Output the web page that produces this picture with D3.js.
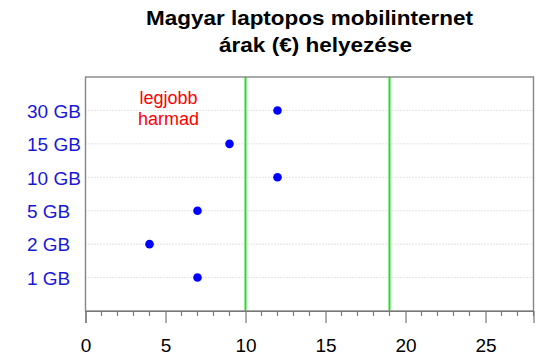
<!DOCTYPE html>
<html><head><meta charset="utf-8">
<script src="https://cdn.jsdelivr.net/npm/d3@7"></script>
<style>body{margin:0;background:#fff}svg{display:block}text{font-family:"Liberation Sans",Arial,sans-serif}</style>
</head><body><svg id="c" width="550" height="357"></svg>
<script>
const categories = ["1 GB","2 GB","5 GB","10 GB","15 GB","30 GB"];
const prices = [7, 4, 7, 12, 9, 12];
const thresholds = [10, 19];
const xTicks = [0,5,10,15,20,25];
const minorTicks = d3.range(0, 29, 1);
const titleLines = ["Magyar laptopos mobilinternet", "árak (€) helyezése"];
const noteLines = ["legjobb", "harmad"];

const svg = d3.select("#c");
const L = 85.5, R = 533.5, T = 77, B = 311;
const x = d3.scaleLinear().domain([0, 28]).range([L, R]);
const y = d3.scaleLinear().domain([0, categories.length + 1]).range([B, T]);

// grid lines
svg.append("g").selectAll("line").data(categories).join("line")
  .attr("x1", L).attr("x2", R)
  .attr("y1", (d,i) => y(i+1)).attr("y2", (d,i) => y(i+1))
  .attr("stroke", "#c8c8c8").attr("stroke-width", 1).attr("stroke-dasharray", "1,2");

// threshold lines
svg.append("g").selectAll("line").data(thresholds).join("line")
  .attr("x1", d => x(d)).attr("x2", d => x(d))
  .attr("y1", T).attr("y2", B)
  .attr("stroke", "#22dd22").attr("stroke-width", 2);

// box
svg.append("rect").attr("x", L).attr("y", T).attr("width", R - L).attr("height", B - T)
  .attr("fill", "none").attr("stroke", "#858585").attr("stroke-width", 1.4);

// points
svg.append("g").selectAll("circle").data(prices).join("circle")
  .attr("cx", d => x(d)).attr("cy", (d,i) => y(i+1)).attr("r", 4.3)
  .attr("fill", "#0000ff");

// category labels
svg.append("g").selectAll("text").data(categories).join("text")
  .attr("x", 27).attr("y", (d,i) => y(i+1) + 7.3)
  .attr("font-size", 19).attr("fill", "#1818d8").text(d => d);

// x axis
const axis = d3.axisBottom(x).tickValues(xTicks).tickSize(12).tickPadding(16).tickFormat(d3.format("d"));
const ag = svg.append("g").attr("transform", `translate(0,${B})`).call(axis);
ag.select(".domain").attr("stroke", "#777").attr("stroke-width", 1.2);
ag.selectAll(".tick line").attr("stroke", "#777").attr("stroke-width", 1.2);
ag.selectAll(".tick text").attr("font-size", 19).attr("fill", "#000").attr("font-family", '"Liberation Sans",Arial,sans-serif');
svg.append("g").attr("transform", `translate(0,${B})`).selectAll("line")
  .data(minorTicks.filter(d => d % 5 !== 0)).join("line")
  .attr("x1", d => x(d)).attr("x2", d => x(d)).attr("y1", 0).attr("y2", 5)
  .attr("stroke", "#777").attr("stroke-width", 1.2);

// title
const tl = [[146, 25, 327], [219, 52, 193]];
svg.append("g").selectAll("text").data(titleLines).join("text")
  .attr("x", (d,i) => tl[i][0]).attr("y", (d,i) => tl[i][1])
  .attr("textLength", (d,i) => tl[i][2]).attr("lengthAdjust", "spacingAndGlyphs")
  .attr("font-size", 21).attr("font-weight", "bold").attr("fill", "#000").text(d => d);

// note
svg.append("g").selectAll("text").data(noteLines).join("text")
  .attr("x", 168.5).attr("y", (d,i) => 104 + i*20.5)
  .attr("text-anchor", "middle").attr("font-size", 18).attr("fill", "#ff0000").text(d => d);
</script></body></html>
